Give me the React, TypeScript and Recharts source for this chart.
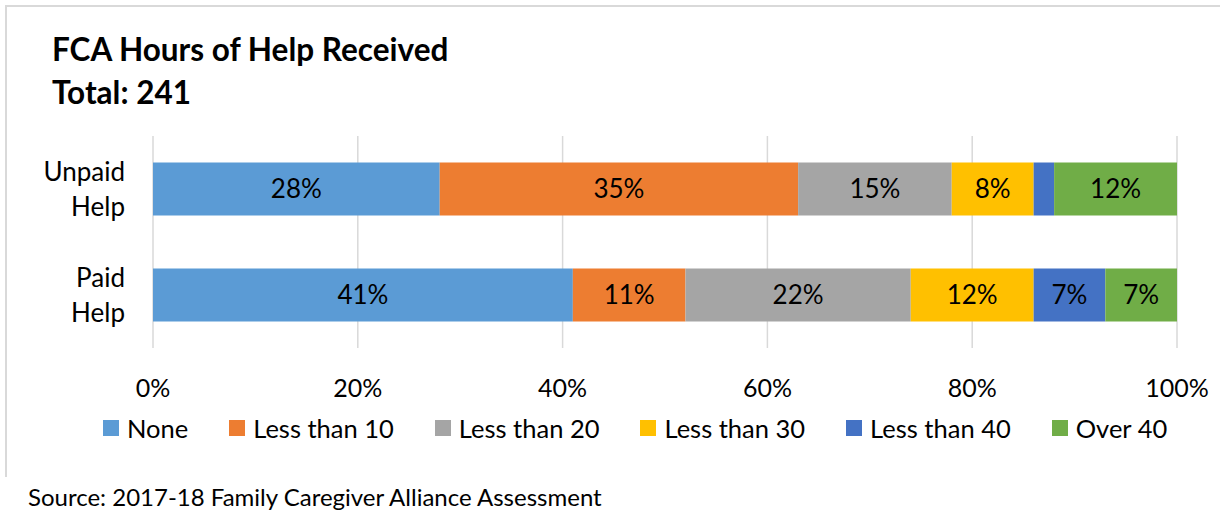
import {
  BarChart,
  Bar,
  XAxis,
  YAxis,
  CartesianGrid,
  LabelList,
} from "recharts";

const categories = ["Unpaid Help", "Paid Help"];
const seriesNames = [
  "None",
  "Less than 10",
  "Less than 20",
  "Less than 30",
  "Less than 40",
  "Over 40",
];
const noneValues = [28, 41];
const lt10Values = [35, 11];
const lt20Values = [15, 22];
const lt30Values = [8, 12];
const lt40Values = [2, 7];
const over40Values = [12, 7];
const xTicks = [0, 20, 40, 60, 80, 100];

const colors = ["#5B9BD5", "#ED7D31", "#A5A5A5", "#FFC000", "#4472C4", "#70AD47"];
const FONT = "Lato, 'Open Sans', sans-serif";

const seriesValues = [noneValues, lt10Values, lt20Values, lt30Values, lt40Values, over40Values];

const data = categories.map((name, i) => {
  const row: Record<string, any> = { name };
  seriesNames.forEach((s, k) => {
    row[s] = seriesValues[k][i];
  });
  return row;
});

const CategoryTick = ({ x, y, payload }: any) => {
  const words = String(payload.value).split(" ");
  const tx = x - 20;
  return (
    <text x={tx} y={y} textAnchor="end" fontFamily={FONT} fontSize={26} fill="#000">
      {words.map((w, i) => (
        <tspan key={i} x={tx} dy={i === 0 ? -8 : 35}>
          {w}
        </tspan>
      ))}
    </text>
  );
};

export default function App() {
  return (
    <div
      style={{
        position: "fixed",
        top: 0,
        left: 0,
        width: 1220,
        height: 518,
        background: "#fff",
        overflow: "hidden",
        fontFamily: FONT,
      }}
    >
      <div
        style={{
          position: "absolute",
          left: 5,
          top: 5,
          width: 1230,
          height: 470,
          borderTop: "2px solid #d9d9d9",
          borderLeft: "2px solid #d9d9d9",
        }}
      />
      <div
        style={{
          position: "absolute",
          left: 52,
          top: 28,
          fontWeight: 700,
          fontSize: 31.5,
          lineHeight: "43px",
          color: "#000",
        }}
      >
        <div>FCA Hours of Help Received</div>
        <div>Total: 241</div>
      </div>
      <div style={{ position: "absolute", top: 0, left: 0 }}>
        <BarChart
          width={1220}
          height={470}
          data={data}
          layout="vertical"
          barCategoryGap="25%"
          margin={{ top: 136, right: 43, left: 23, bottom: 72 }}
        >
          <CartesianGrid horizontal={false} stroke="#d9d9d9" strokeWidth={1.5} />
          <XAxis
            type="number"
            domain={[0, 100]}
            ticks={xTicks}
            tickFormatter={(v) => `${v}%`}
            axisLine={false}
            tickLine={false}
            height={50}
            tick={{ fontFamily: FONT, fontSize: 25, fill: "#000", dy: 23 }}
            interval={0}
          />
          <YAxis
            type="category"
            dataKey="name"
            width={130}
            axisLine={false}
            tickLine={false}
            tick={<CategoryTick />}
          />
          {seriesNames.map((s, i) => (
            <Bar key={s} dataKey={s} stackId="a" fill={colors[i]} isAnimationActive={false}>
              <LabelList
                dataKey={s}
                position="center"
                formatter={(v: any) => (v >= 5 ? `${v}%` : "")}
                style={{ fontFamily: FONT, fontSize: 26, fill: "#000" }}
              />
            </Bar>
          ))}
        </BarChart>
      </div>
      <div
        style={{
          position: "absolute",
          top: 412,
          left: 103,
          display: "flex",
          alignItems: "center",
          fontSize: 25.5,
          lineHeight: "32px",
          color: "#000",
          whiteSpace: "nowrap",
        }}
      >
        {seriesNames.map((s, i) => (
          <div key={s} style={{ display: "flex", alignItems: "center", marginRight: 41 }}>
            <span style={{ width: 16, height: 16, background: colors[i], marginRight: 8, display: "inline-block" }} />
            <span>{s}</span>
          </div>
        ))}
      </div>
      <div
        style={{
          position: "absolute",
          left: 28,
          top: 482,
          fontSize: 24,
          color: "#000",
          whiteSpace: "nowrap",
        }}
      >
        Source: 2017-18 Family Caregiver Alliance Assessment
      </div>
    </div>
  );
}
